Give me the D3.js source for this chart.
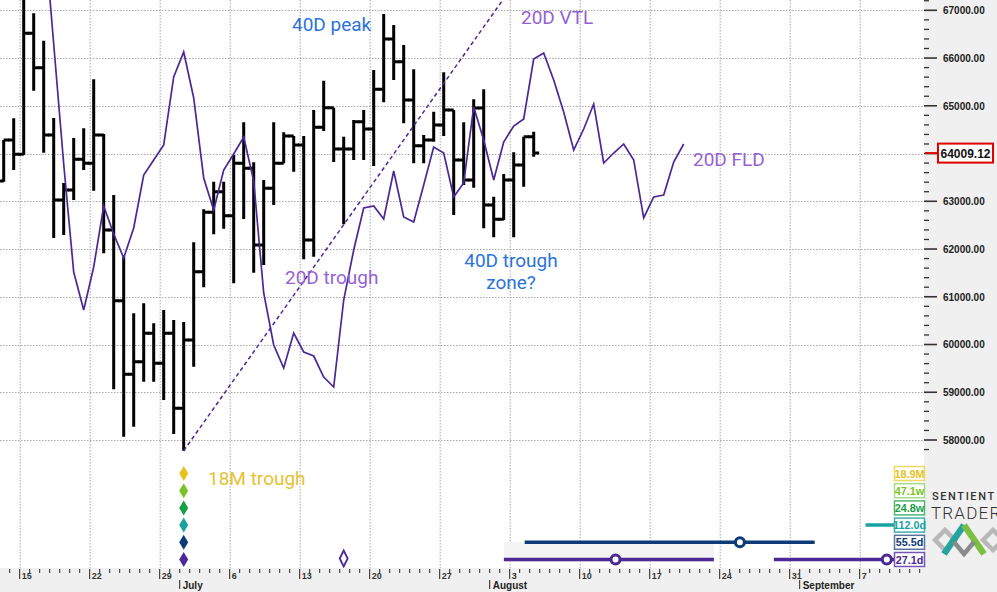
<!DOCTYPE html>
<html>
<head>
<meta charset="utf-8">
<script src="https://cdn.jsdelivr.net/npm/d3@7"></script>
<style>
  body { margin: 0; background: #fff; }
  svg { display: block; font-family: Roboto, "Liberation Sans", Arial, sans-serif; }
</style>
</head>
<body>
<div id="chart"></div>
<script>
// daily OHLC bars, one per calendar day from barStart
const barStart = "2020-06-13";
const opens  = [63425, 64283, 63984, 66518, 65798, 64388, 63027, 63236, 63879, 63795,
                64388, 62398, 60917, 59376, 59640, 60235, 59606, 60235, 58664, 60094,
                61525, 62769, 63201, 62698, 63795, 63691, 62084, 63272, 63795, 64367,
                64179, 62189, 64549, 64960, 64095, 64095, 64667, 64514, 65345, 66399,
                65923, 65121, 64164, 64283, 64598, 64912, 63865, 63446, 64954, 62922,
                62622, 63446, 63760, 64353];
const highs  = [64283, 64738, 67320, 66937, 66363, 64744, 63383, 64325, 64528, 65555,
                64410, 63131, 61839, 60654, 60863, 60444, 60723, 60513, 60470, 62141,
                62832, 63410, 63410, 63969, 64654, 63816, 63446, 64654, 64445, 64367,
                64367, 64912, 65525, 64960, 64353, 64702, 64912, 65750, 66923, 66692,
                66273, 65764, 64388, 64876, 65701, 64912, 64654, 65136, 65345, 63096,
                63571, 64026, 64353, 64457];
const lows   = [63410, 63655, 63969, 65316, 64017, 62231, 62294, 63027, 63655, 63221,
                61910, 59062, 58069, 58278, 59221, 59221, 58838, 58126, 57776, 59535,
                61198, 62308, 62426, 61282, 62629, 61504, 61665, 62922, 63795, 63619,
                61785, 61839, 64472, 63823, 62518, 63865, 63865, 63739, 65073, 65540,
                64633, 63795, 63795, 64248, 64367, 62713, 63341, 63284, 62434, 62245,
                62608, 62245, 63305, 63934];
const closes = [64283, 63984, 66518, 65798, 64388, 63027, 63236, 63879, 63795, 64388,
                62398, 60917, 59376, 59640, 60235, 59606, 60235, 58664, 60094, 61525,
                62769, 63201, 62698, 63795, 63691, 62084, 63272, 63795, 64367, 64179,
                62189, 64549, 64960, 64095, 64095, 64667, 64514, 65345, 66399, 65923,
                65121, 64164, 64283, 64598, 64912, 63865, 63446, 64954, 62922, 62622,
                63446, 63760, 64353, 64009.12];
const lastPrice = 64009.12;

// 20D FLD, one value per day from fldStart
const fldStart = "2020-06-17";
const fldValues = [68808, 66294, 63781, 61519, 60723, 61623, 62901, 62315, 61812, 62440,
                   63550, 63865, 64179, 65603, 66127, 65163, 63488, 62817, 63655, 63990,
                   64346, 63425, 61079, 59990, 59508, 60241, 59843, 59759, 59319, 59110,
                   60932, 61979, 62859, 62901, 62629, 63634, 62671, 62566, 63341, 64137,
                   64011, 63090, 63383, 64975, 64283, 63446, 64242, 64577, 64723, 65980,
                   66106, 65540, 64870, 64074, 64514, 65037, 63802, 64011, 64200, 63865,
                   62650, 63090, 63131, 63823, 64200];

// 20D VTL
const vtlDates  = ["2020-07-01", "2020-08-02"];
const vtlValues = [57776, 67243];

const priceTicks = [58000, 59000, 60000, 61000, 62000, 63000, 64000, 65000, 66000, 67000];

// cycle panel
const cycleLabels = ["18.9M", "47.1w", "24.8w", "112.0d", "55.5d", "27.1d"];
const troughDate = "2020-07-01";
const hollowDate = "2020-07-17";
// projected trough ranges: [cycle, start, centre, end]
const projections = [
  ["55.5d", "2020-08-04T12:00Z", "2020-08-26T00:30Z", "2020-09-02T12:00Z"],
  ["27.1d", "2020-08-02T10:00Z", "2020-08-13T14:00Z", "2020-08-23T10:00Z"],
  ["27.1d", "2020-08-29T10:00Z", "2020-09-09T17:00Z", "2020-09-19T12:00Z"],
  ["112.0d", "2020-09-07T14:00Z", null, "2020-09-19T12:00Z"]
];

const cycleColors = ["#e6c21c", "#7cc225", "#14a045", "#18a2a0", "#0c3b78", "#4b2896"];
const cycleBorders = ["#efd866", "#a6da8c", "#4fb872", "#3fb0ae", "#5673a0", "#7655b3"];

const width = 997, height = 592,
      plotW = 924, plotH = 568;

const svg = d3.select("#chart").append("svg")
    .attr("width", width)
    .attr("height", height);

const x = d3.scaleUtc()
    .domain([new Date("2020-06-15"), new Date("2020-09-07")])
    .range([19.7, 859.7]);
const y = d3.scaleLinear()
    .domain([58000, 67000])
    .range([440, 10.3]);

const barX = d => x(d) + 4;
const day = (s, i) => d3.utcDay.offset(new Date(s), i);

svg.append("defs").append("clipPath")
    .attr("id", "plot-clip")
  .append("rect")
    .attr("width", plotW)
    .attr("height", plotH);

// panels
svg.append("rect").attr("x", plotW).attr("width", width - plotW).attr("height", plotH).attr("fill", "#f0f0f0");
svg.append("rect").attr("y", plotH).attr("width", width).attr("height", height - plotH).attr("fill", "#f0f0f0");

const plot = svg.append("g").attr("clip-path", "url(#plot-clip)");

// grid
const mondays = d3.utcMonday.range(new Date("2020-06-14"), new Date("2020-09-14"));
plot.append("g").selectAll("line")
    .data(mondays)
    .enter().append("line")
      .attr("x1", d => x(d) + 0.5).attr("x2", d => x(d) + 0.5)
      .attr("y1", 0).attr("y2", plotH)
      .attr("stroke", "#a8a8a8")
      .attr("stroke-dasharray", "1.5,1.5");
plot.append("g").selectAll("line")
    .data(priceTicks)
    .enter().append("line")
      .attr("x1", 0).attr("x2", plotW)
      .attr("y1", d => Math.round(y(d)) + 0.5).attr("y2", d => Math.round(y(d)) + 0.5)
      .attr("stroke", "#a8a8a8")
      .attr("stroke-dasharray", "1.5,1.5");

// highlight behind current projection
const p1 = projections[1];
plot.append("rect")
    .attr("x", x(new Date(p1[1])))
    .attr("y", 542)
    .attr("width", x(new Date(p1[3])) - x(new Date(p1[1])))
    .attr("height", 20)
    .attr("fill", "#f3f3f3");

// bars
const bars = opens.map((o, i) => ({date: day(barStart, i), o: o, h: highs[i], l: lows[i], c: closes[i]}));
plot.append("g").selectAll("path")
    .data(bars)
    .enter().append("path")
      .attr("d", d => {
          const bx = barX(d.date);
          return "M" + bx + "," + y(d.h) + "V" + y(d.l) +
                 "M" + (bx - 5.5) + "," + y(d.o) + "H" + bx +
                 "M" + bx + "," + y(d.c) + "H" + (bx + 5.5);
      })
      .attr("fill", "none")
      .attr("stroke", "#000")
      .attr("stroke-width", 3);

// FLD
const fld = fldValues.map((v, i) => ({date: day(fldStart, i), v: v}));
plot.append("path")
    .datum(fld)
    .attr("d", d3.line().x(d => barX(d.date)).y(d => y(d.v)))
    .attr("fill", "none")
    .attr("stroke", "#4b2896")
    .attr("stroke-width", 1.7);

// VTL
plot.append("path")
    .datum(vtlDates.map((s, i) => ({date: new Date(s), v: vtlValues[i]})))
    .attr("d", d3.line().x(d => barX(d.date)).y(d => y(d.v)))
    .attr("fill", "none")
    .attr("stroke", "#4b2896")
    .attr("stroke-width", 1.5)
    .attr("stroke-dasharray", "4,3");

// trough diamonds
const rowY = d3.scalePoint().domain(cycleLabels).range([473.5, 559.5]);
const diamond = (w, h) => "M0," + (-h) + "L" + w + ",0L0," + h + "L" + (-w) + ",0Z";
plot.append("g").selectAll("path")
    .data(cycleLabels)
    .enter().append("path")
      .attr("transform", d => "translate(" + barX(new Date(troughDate)) + "," + rowY(d) + ")")
      .attr("d", diamond(4.5, 7.5))
      .attr("fill", (d, i) => cycleColors[i]);
plot.append("path")
    .attr("transform", "translate(" + barX(new Date(hollowDate)) + "," + (rowY("27.1d") - 1) + ")")
    .attr("d", diamond(4, 8))
    .attr("fill", "#fff")
    .attr("stroke", "#4b2896")
    .attr("stroke-width", 1.8);

// projections
projections.forEach(p => {
    const col = cycleColors[cycleLabels.indexOf(p[0])];
    const ry = rowY(p[0]);
    plot.append("line")
        .attr("x1", x(new Date(p[1]))).attr("x2", x(new Date(p[3])))
        .attr("y1", ry).attr("y2", ry)
        .attr("stroke", col)
        .attr("stroke-width", 3.5);
    if (p[2]) {
        plot.append("circle")
            .attr("cx", x(new Date(p[2]))).attr("cy", ry)
            .attr("r", 4.5)
            .attr("fill", "#fff")
            .attr("stroke", col)
            .attr("stroke-width", 3);
    }
});

// cycle labels
const tags = svg.append("g").selectAll("g")
    .data(cycleLabels)
    .enter().append("g")
      .attr("transform", d => "translate(894," + rowY(d) + ")");
tags.append("rect")
    .attr("x", 0.5).attr("y", -7)
    .attr("width", 30).attr("height", 14)
    .attr("fill", "#fff")
    .attr("stroke", (d, i) => cycleBorders[i])
    .attr("stroke-width", 1.5);
tags.append("text")
    .attr("x", 15.5).attr("y", 4)
    .attr("text-anchor", "middle")
    .attr("font-family", "'Liberation Sans', Arial, sans-serif")
    .attr("font-weight", "bold")
    .attr("font-size", 10.8)
    .attr("fill", (d, i) => cycleColors[i])
    .text(d => d);

// annotations
const notes = [
    {t: "40D peak", x: 292, y: 31, c: "#2b73d8"},
    {t: "20D VTL", x: 521, y: 24, c: "#9562d4"},
    {t: "20D FLD", x: 693, y: 166, c: "#9562d4"},
    {t: "20D trough", x: 285, y: 283.5, c: "#9562d4"},
    {t: "18M trough", x: 208, y: 485, c: "#e6c233"}
];
svg.append("g").selectAll("text")
    .data(notes)
    .enter().append("text")
      .attr("x", d => d.x).attr("y", d => d.y)
      .attr("font-size", 19)
      .attr("fill", d => d.c)
      .text(d => d.t);
svg.append("text")
    .attr("x", 511).attr("y", 267)
    .attr("text-anchor", "middle")
    .attr("font-size", 19)
    .attr("fill", "#2b73d8")
    .selectAll("tspan")
    .data(["40D trough", "zone?"])
    .enter().append("tspan")
      .attr("x", 511)
      .attr("dy", (d, i) => i ? 21.5 : 0)
      .text(d => d);

// y axis
const minorTicks = d3.range(57800, 67201, 200);
svg.append("g").selectAll("line")
    .data(minorTicks)
    .enter().append("line")
      .attr("x1", plotW).attr("x2", d => d % 1000 === 0 ? plotW + 13 : plotW + 5)
      .attr("y1", d => y(d)).attr("y2", d => y(d))
      .attr("stroke", "#333")
      .attr("stroke-width", d => d % 1000 === 0 ? 1.6 : 1.3);
// the 64000 label sits under the last-price tag
svg.append("g").selectAll("text")
    .data(priceTicks.filter(d => Math.abs(y(d) - y(lastPrice)) > 10))
    .enter().append("text")
      .attr("x", 943).attr("y", d => y(d) + 3.8)
      .attr("font-family", "'Liberation Sans', Arial, sans-serif")
      .attr("font-weight", "bold")
      .attr("font-size", 10)
      .attr("fill", "#222")
      .text(d => d3.format(".2f")(d));

// last price tag
const ly = y(lastPrice);
svg.append("line")
    .attr("x1", plotW + 1).attr("x2", 938)
    .attr("y1", ly).attr("y2", ly)
    .attr("stroke", "#e00000").attr("stroke-width", 2);
svg.append("rect")
    .attr("x", 938).attr("y", ly - 9.5)
    .attr("width", 55).attr("height", 19)
    .attr("fill", "#fff")
    .attr("stroke", "#e00000").attr("stroke-width", 2);
svg.append("text")
    .attr("x", 965.5).attr("y", ly + 4.5)
    .attr("text-anchor", "middle")
    .attr("font-family", "'Liberation Sans', Arial, sans-serif")
    .attr("font-weight", "bold")
    .attr("font-size", 12)
    .attr("fill", "#111")
    .text(d3.format(".2f")(lastPrice));

// x axis
const days = d3.utcDay.range(new Date("2020-06-14"), new Date("2020-09-14"));
const xAxis = svg.append("g");
xAxis.selectAll("line.day")
    .data(days)
    .enter().append("line")
      .attr("class", "day")
      .attr("x1", d => x(d)).attr("x2", d => x(d))
      .attr("y1", plotH + 1)
      .attr("y2", d => d.getUTCDay() === 1 ? plotH + 11 : plotH + 5)
      .attr("stroke", "#222")
      .attr("stroke-width", 1);
xAxis.selectAll("text.day")
    .data(mondays)
    .enter().append("text")
      .attr("class", "day")
      .attr("x", d => x(d) + 2).attr("y", plotH + 11)
      .attr("font-family", "'Liberation Sans', Arial, sans-serif")
      .attr("font-weight", "bold")
      .attr("font-size", 9)
      .attr("fill", "#333")
      .text(d3.utcFormat("%-d"));
const months = d3.utcMonth.range(new Date("2020-06-14"), new Date("2020-09-14"));
xAxis.selectAll("line.month")
    .data(months)
    .enter().append("line")
      .attr("class", "month")
      .attr("x1", d => x(d)).attr("x2", d => x(d))
      .attr("y1", plotH + 12).attr("y2", plotH + 21)
      .attr("stroke", "#222");
xAxis.selectAll("text.month")
    .data(months)
    .enter().append("text")
      .attr("class", "month")
      .attr("x", d => x(d) + 3).attr("y", plotH + 21)
      .attr("font-family", "'Liberation Sans', Arial, sans-serif")
      .attr("font-weight", "bold")
      .attr("font-size", 10)
      .attr("fill", "#222")
      .text(d3.utcFormat("%B"));

// logo
const logo = svg.append("g");
logo.append("text")
    .attr("x", 932).attr("y", 500)
    .attr("font-size", 11).attr("font-weight", 500)
    .attr("letter-spacing", 1.6)
    .attr("fill", "#333")
    .text("SENTIENT");
logo.append("text")
    .attr("x", 931).attr("y", 519)
    .attr("font-size", 17).attr("font-weight", 300)
    .attr("letter-spacing", 1.2)
    .attr("fill", "#333")
    .text("TRADER");
logo.append("path")
    .attr("d", "M935,540L945,530L955,540L945,550Z")
    .attr("fill", "none").attr("stroke", "#b8b8b8").attr("stroke-width", 4.5);
logo.append("path")
    .attr("d", "M983,540L993,530L1003,540L993,550Z")
    .attr("fill", "none").attr("stroke", "#b8b8b8").attr("stroke-width", 4.5);
logo.append("path")
    .attr("d", "M944,554L964,525")
    .attr("stroke", "#25a39c").attr("stroke-width", 6.5);
logo.append("path")
    .attr("d", "M964,525L984,554")
    .attr("stroke", "#7bc043").attr("stroke-width", 6.5);
logo.append("path")
    .attr("d", "M954,542L964,554L974,542")
    .attr("fill", "none").attr("stroke", "#8a8a8a").attr("stroke-width", 4.5);
</script>
</body>
</html>
